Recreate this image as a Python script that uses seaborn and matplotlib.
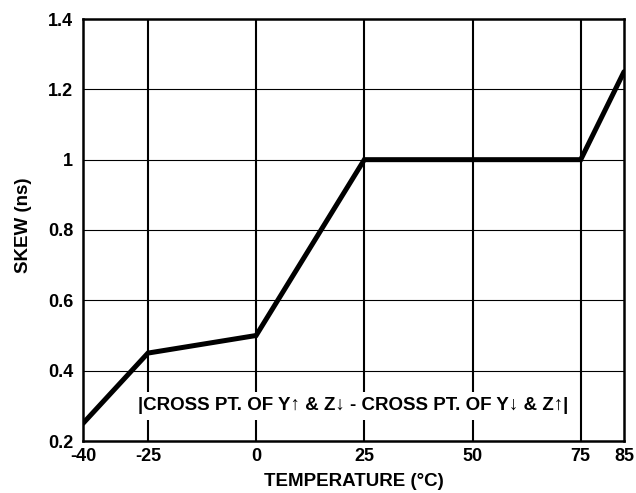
import matplotlib
matplotlib.use("Agg")
import matplotlib.pyplot as plt
import seaborn as sns
import pandas as pd

temperature = [-40, -25, 0, 25, 75, 85]
skew = [0.25, 0.45, 0.50, 1.00, 1.00, 1.25]
x_ticks = [-40, -25, 0, 25, 50, 75, 85]
y_ticks = [0.2, 0.4, 0.6, 0.8, 1.0, 1.2, 1.4]
y_tick_labels = ["0.2", "0.4", "0.6", "0.8", "1", "1.2", "1.4"]
annotation = "|CROSS PT. OF Y\u2191 & Z\u2193 - CROSS PT. OF Y\u2193 & Z\u2191|"

sns.set_style("white")
plt.rcParams['font.family'] = ['Liberation Sans', 'DejaVu Sans']
plt.rcParams['font.weight'] = 'bold'
plt.rcParams['text.color'] = 'black'
plt.rcParams['axes.labelcolor'] = 'black'
plt.rcParams['xtick.color'] = 'black'
plt.rcParams['ytick.color'] = 'black'

df = pd.DataFrame({"temperature": temperature, "skew": skew})

fig = plt.figure(figsize=(6.36, 4.93), dpi=100)
ax = fig.add_axes([83/636, 1-441/493, (624-83)/636, (441-19)/493])

# grid lines
for xv in x_ticks[1:-1]:
    ax.axvline(xv, color="black", lw=1.5, zorder=1)
for yv in y_ticks[1:-1]:
    ax.axhline(yv, color="black", lw=0.8, zorder=1)

sns.lineplot(data=df, x="temperature", y="skew", color="black", lw=3.6, ax=ax, zorder=3,
             solid_joinstyle="miter")

ax.text(22.4, 0.30, annotation, ha="center", va="center", fontsize=13.5, fontweight="bold",
        color="black", bbox=dict(facecolor="white", edgecolor="none", pad=4), zorder=2)

ax.set_xlim(-40, 85)
ax.set_ylim(0.2, 1.4)
ax.set_xticks(x_ticks)
ax.set_xticklabels([str(v) for v in x_ticks])
ax.set_yticks(y_ticks)
ax.set_yticklabels(y_tick_labels)
ax.tick_params(axis="both", length=0, labelsize=13)
ax.tick_params(axis="x", pad=5)
ax.tick_params(axis="y", pad=7)
for lab in ax.get_xticklabels() + ax.get_yticklabels():
    lab.set_fontweight("bold")

ax.set_xlabel("TEMPERATURE (\u00b0C)", fontsize=13.5, fontweight="bold", labelpad=6)
ax.set_ylabel("SKEW (ns)", fontsize=13.5, fontweight="bold")
ax.yaxis.set_label_coords(-0.095, 0.512)

for s in ax.spines.values():
    s.set_visible(True)
    s.set_color("black")
    s.set_linewidth(1.8)

fig.savefig("out.png", dpi=100)
